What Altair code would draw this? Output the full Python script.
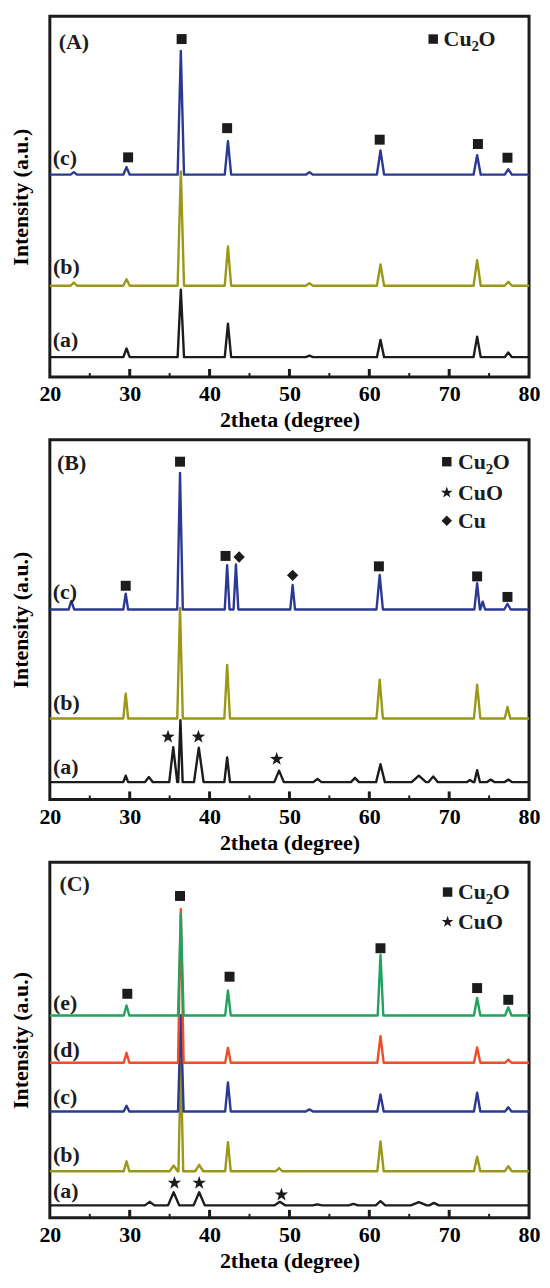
import altair as alt
import pandas as pd

FONT = "Liberation Serif"

# ---------------- Panel A data ----------------
A_peaks = [23.0, 29.6, 36.4, 42.3, 52.5, 61.4, 73.5, 77.4]
A_widths = [0.4, 0.4, 0.4, 0.4, 0.45, 0.45, 0.45, 0.45]
A_a_base = 5.5
A_a_top = [5.5, 7.9, 24.2, 14.8, 5.9, 10.3, 11.2, 6.8]
A_b_base = 25.3
A_b_top = [26.2, 27.1, 57.0, 36.2, 26.0, 31.2, 32.4, 26.4]
A_c_base = 56.1
A_c_top = [56.8, 58.2, 90.4, 65.4, 56.8, 62.8, 61.5, 57.6]

A_sq_x = [29.8, 36.5, 42.2, 61.3, 73.6, 77.3]
A_sq_y = [60.9, 93.7, 69.0, 65.8, 64.6, 60.8]
A_lab_text = ["(A)", "(c)", "(b)", "(a)"]
A_lab_x = [21.1, 20.35, 20.4, 20.35]
A_lab_y = [93.0, 60.6, 30.5, 10.3]
A_leg_x = [68.0]
A_leg_y = [93.7]
A_leg_tx = 69.3

# ---------------- Panel B data ----------------
B_c_peaks = [22.7, 29.5, 36.3, 42.2, 43.3, 50.4, 61.3, 73.5, 74.2, 77.3]
B_c_widths = [0.35, 0.3, 0.35, 0.3, 0.3, 0.3, 0.4, 0.35, 0.3, 0.4]
B_c_base = 52.8
B_c_top = [55.2, 57.2, 90.8, 65.1, 65.3, 59.6, 62.4, 60.1, 55.0, 54.4]
B_b_peaks = [29.5, 36.3, 42.2, 61.3, 73.5, 77.3]
B_b_widths = [0.3, 0.35, 0.35, 0.4, 0.4, 0.35]
B_b_base = 22.5
B_b_top = [29.4, 53.2, 37.4, 33.3, 31.9, 25.7]
B_a_peaks = [29.5, 32.4, 35.45, 36.35, 38.65, 42.2, 48.7, 53.5, 58.2, 61.4,
             66.2, 68.0, 72.6, 73.5, 75.2, 77.4]
B_a_widths = [0.3, 0.5, 0.5, 0.28, 0.6, 0.35, 0.6, 0.5, 0.5, 0.55,
              0.9, 0.6, 0.4, 0.35, 0.5, 0.5]
B_a_base = 4.8
B_a_top = [6.6, 6.2, 14.5, 22.0, 14.4, 11.7, 8.0, 5.7, 6.0, 9.8,
           6.6, 6.4, 5.4, 8.1, 5.5, 5.5]

B_sq_x = [29.5, 36.3, 42.0, 61.2, 73.5, 77.3]
B_sq_y = [59.4, 93.9, 67.7, 64.8, 62.0, 56.3]
B_dia_x = [43.7, 50.4]
B_dia_y = [67.4, 62.3]
B_star_x = [34.8, 38.6, 48.4]
B_star_y = [17.4, 17.4, 11.2]
B_lab_text = ["(B)", "(c)", "(b)", "(a)"]
B_lab_x = [20.9, 20.35, 20.4, 20.4]
B_lab_y = [93.6, 57.8, 26.8, 9.0]
B_leg_y = [93.9, 85.3, 77.5]
B_leg_x = 69.7
B_leg_tx = 71.1

# ---------------- Panel C data ----------------
C_e_peaks = [29.6, 36.4, 42.3, 61.4, 73.5, 77.4]
C_e_widths = [0.35, 0.35, 0.35, 0.35, 0.4, 0.4]
C_e_base = 56.9
C_e_top = [59.7, 85.4, 63.9, 73.9, 61.8, 59.2]
C_d_peaks = [29.6, 36.4, 42.3, 61.4, 73.5, 77.4]
C_d_widths = [0.35, 0.35, 0.35, 0.4, 0.4, 0.4]
C_d_base = 43.6
C_d_top = [46.4, 86.8, 47.8, 51.1, 47.9, 44.5]
C_c_peaks = [29.6, 36.4, 42.3, 52.5, 61.4, 73.5, 77.4]
C_c_widths = [0.35, 0.35, 0.35, 0.45, 0.4, 0.4, 0.4]
C_c_base = 29.9
C_c_top = [31.5, 57.0, 38.1, 30.5, 34.7, 35.2, 31.1]
C_b_peaks = [29.6, 35.5, 36.4, 38.7, 42.3, 48.7, 61.4, 73.5, 77.4]
C_b_widths = [0.35, 0.5, 0.3, 0.5, 0.35, 0.4, 0.4, 0.4, 0.45]
C_b_base = 13.1
C_b_top = [15.9, 14.7, 44.0, 14.9, 21.3, 14.0, 21.5, 17.2, 14.5]
C_a_peaks = [32.5, 35.5, 38.7, 48.8, 53.5, 58.0, 61.4, 66.2, 68.1]
C_a_widths = [0.6, 0.7, 0.7, 0.7, 0.6, 0.6, 0.6, 1.0, 0.6]
C_a_base = 3.5
C_a_top = [4.5, 7.2, 7.2, 4.5, 3.8, 3.9, 4.7, 4.4, 4.2]

C_sq_x = [29.7, 36.3, 42.5, 61.4, 73.5, 77.4]
C_sq_y = [63.0, 90.5, 67.8, 75.8, 64.6, 61.3]
C_star_x = [35.6, 38.7, 49.0]
C_star_y = [9.8, 9.8, 6.5]
C_lab_text = ["(C)", "(e)", "(d)", "(c)", "(b)", "(a)"]
C_lab_x = [21.2, 20.4, 20.4, 20.4, 20.4, 20.4]
C_lab_y = [93.8, 60.4, 47.3, 34.0, 17.7, 7.5]
C_leg_y = [91.6, 83.2]
C_leg_x = 69.8
C_leg_tx = 71.1

X_TICK_LABELS = [20, 30, 40, 50, 60, 70, 80]
MAJOR_TICKS = [30, 40, 50, 60, 70]
MINOR_TICKS = [25, 35, 45, 55, 65, 75]

BLACK = "#1c1c1c"
OLIVE = "#9a9816"
BLUE = "#2b3894"
RED = "#ef4d24"
GREEN = "#20a35e"

STAR = ("M0,-1L0.235,-0.324L0.951,-0.309L0.38,0.124L0.588,0.809L0,0.4"
        "L-0.588,0.809L-0.38,0.124L-0.951,-0.309L-0.235,-0.324Z")


def trace(name, base, peaks, tops, widths):
    rows = [(20.0, base)]
    for p, t, w in zip(peaks, tops, widths):
        rows += [(p - w, base), (p, t), (p + w, base)]
    rows.append((80.0, base))
    return [{"s": name, "i": k, "x": x, "y": y} for k, (x, y) in enumerate(rows)]


def panel(series, colors, squares, stars, diamonds, labels, legend, W, H):
    recs = []
    for s in series:
        recs += trace(*s)
    df = pd.DataFrame(recs)
    names = [s[0] for s in series]
    xsc = alt.Scale(domain=[20, 80], nice=False, zero=False)
    ysc = alt.Scale(domain=[0, 100], nice=False, zero=False)
    xax = alt.Axis(values=X_TICK_LABELS, title="2theta (degree)", grid=False,
                   domain=False, ticks=False, labelPadding=7, titlePadding=5,
                   labelFontSize=22, titleFontSize=22, labelFont=FONT, titleFont=FONT,
                   labelFontWeight="bold", titleFontWeight="bold",
                   labelColor="black", titleColor="black", labelFlush=False)
    yax = alt.Axis(title="Intensity (a.u.)", labels=False, ticks=False, domain=False,
                   grid=False, titleFontSize=22, titleFont=FONT, titleFontWeight="bold",
                   titleColor="black", titlePadding=17)
    lines = alt.Chart(df).mark_line(strokeWidth=2.4, interpolate="linear",
                                    strokeJoin="round").encode(
        x=alt.X("x:Q", scale=xsc, axis=xax),
        y=alt.Y("y:Q", scale=ysc, axis=yax),
        color=alt.Color("s:N", scale=alt.Scale(domain=names, range=colors), legend=None),
        order="i:Q",
    )
    layers = []
    maj = alt.Chart(pd.DataFrame({"t": MAJOR_TICKS})).mark_rule(
        color=BLACK, strokeWidth=3).encode(
        x=alt.X("t:Q", scale=xsc), y=alt.value(H), y2=alt.value(H - 8))
    mnr = alt.Chart(pd.DataFrame({"t": MINOR_TICKS})).mark_rule(
        color=BLACK, strokeWidth=2).encode(
        x=alt.X("t:Q", scale=xsc), y=alt.value(H), y2=alt.value(H - 4))
    layers += [lines, maj, mnr]

    sx, sy = squares
    layers.append(alt.Chart(pd.DataFrame({"x": sx, "y": sy})).mark_point(
        shape="square", filled=True, size=100, color=BLACK, opacity=1).encode(
        x=alt.X("x:Q", scale=xsc), y=alt.Y("y:Q", scale=ysc)))
    if stars:
        tx, ty = stars
        layers.append(alt.Chart(pd.DataFrame({"x": tx, "y": ty})).mark_point(
            shape=STAR, filled=True, size=200, color=BLACK, opacity=1).encode(
            x=alt.X("x:Q", scale=xsc), y=alt.Y("y:Q", scale=ysc)))
    if diamonds:
        dx_, dy_ = diamonds
        layers.append(alt.Chart(pd.DataFrame({"x": dx_, "y": dy_})).mark_point(
            shape="diamond", filled=True, size=130, color=BLACK, opacity=1).encode(
            x=alt.X("x:Q", scale=xsc), y=alt.Y("y:Q", scale=ysc)))

    lt, lx, ly = labels
    layers.append(alt.Chart(pd.DataFrame({"t": lt, "x": lx, "y": ly})).mark_text(
        align="left", baseline="middle", font=FONT, fontWeight="bold", fontSize=22,
        color=BLACK).encode(x=alt.X("x:Q", scale=xsc), y=alt.Y("y:Q", scale=ysc), text="t:N"))

    mx, my, tx0, kinds = legend
    for k, kind in enumerate(kinds):
        y0 = my[k]
        pdf = pd.DataFrame({"x": [mx], "y": [y0]})
        shape = {"sq": "square", "star": STAR, "dia": "diamond"}[kind]
        size = {"sq": 90, "star": 150, "dia": 110}[kind]
        layers.append(alt.Chart(pdf).mark_point(
            shape=shape, filled=True, size=size, color=BLACK, opacity=1).encode(
            x=alt.X("x:Q", scale=xsc), y=alt.Y("y:Q", scale=ysc)))
        tdf = pd.DataFrame({"x": [tx0], "y": [y0]})
        txt = dict(align="left", baseline="middle", font=FONT, fontWeight="bold",
                   color=BLACK)
        if kind == "sq":
            layers.append(alt.Chart(tdf).mark_text(fontSize=22, text="Cu", **txt).encode(
                x=alt.X("x:Q", scale=xsc), y=alt.Y("y:Q", scale=ysc)))
            layers.append(alt.Chart(tdf).mark_text(fontSize=15, text="2", dx=28, dy=7, **txt).encode(
                x=alt.X("x:Q", scale=xsc), y=alt.Y("y:Q", scale=ysc)))
            layers.append(alt.Chart(tdf).mark_text(fontSize=22, text="O", dx=35, **txt).encode(
                x=alt.X("x:Q", scale=xsc), y=alt.Y("y:Q", scale=ysc)))
        else:
            t = "CuO" if kind == "star" else "Cu"
            layers.append(alt.Chart(tdf).mark_text(fontSize=22, text=t, **txt).encode(
                x=alt.X("x:Q", scale=xsc), y=alt.Y("y:Q", scale=ysc)))

    return alt.layer(*layers).properties(width=W, height=H)


pA = panel(
    [("a", A_a_base, A_peaks, A_a_top, A_widths),
     ("b", A_b_base, A_peaks, A_b_top, A_widths),
     ("c", A_c_base, A_peaks, A_c_top, A_widths)],
    [BLACK, OLIVE, BLUE],
    (A_sq_x, A_sq_y), None, None,
    (A_lab_text, A_lab_x, A_lab_y),
    (A_leg_x[0], A_leg_y, A_leg_tx, ["sq"]),
    481, 362)

pB = panel(
    [("a", B_a_base, B_a_peaks, B_a_top, B_a_widths),
     ("b", B_b_base, B_b_peaks, B_b_top, B_b_widths),
     ("c", B_c_base, B_c_peaks, B_c_top, B_c_widths)],
    [BLACK, OLIVE, BLUE],
    (B_sq_x, B_sq_y), (B_star_x, B_star_y), (B_dia_x, B_dia_y),
    (B_lab_text, B_lab_x, B_lab_y),
    (B_leg_x, B_leg_y, B_leg_tx, ["sq", "star", "dia"]),
    481, 361)

pC = panel(
    [("a", C_a_base, C_a_peaks, C_a_top, C_a_widths),
     ("b", C_b_base, C_b_peaks, C_b_top, C_b_widths),
     ("c", C_c_base, C_c_peaks, C_c_top, C_c_widths),
     ("d", C_d_base, C_d_peaks, C_d_top, C_d_widths),
     ("e", C_e_base, C_e_peaks, C_e_top, C_e_widths)],
    [BLACK, OLIVE, BLUE, RED, GREEN],
    (C_sq_x, C_sq_y), (C_star_x, C_star_y), None,
    (C_lab_text, C_lab_x, C_lab_y),
    (C_leg_x, C_leg_y, C_leg_tx, ["sq", "star"]),
    481, 357)

chart = alt.vconcat(pA, pB, pC, spacing=5).resolve_scale(
    color="independent").configure_view(
    stroke=BLACK, strokeWidth=3).properties(
    padding={"left": 0, "top": 4, "right": 0, "bottom": 0},
    background="white")

chart.save("out.html", embed_options={"renderer": "svg", "actions": False})
